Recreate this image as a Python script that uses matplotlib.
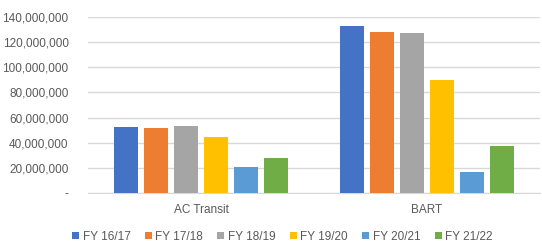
import matplotlib
matplotlib.use("Agg")
import matplotlib.pyplot as plt
import numpy as np

agencies = ["AC Transit", "BART"]
years = ["FY 16/17", "FY 17/18", "FY 18/19", "FY 19/20", "FY 20/21", "FY 21/22"]
values = {
    "FY 16/17": [52.7e6, 132.6e6],
    "FY 17/18": [52.0e6, 128.3e6],
    "FY 18/19": [53.3e6, 127.5e6],
    "FY 19/20": [44.5e6, 90.1e6],
    "FY 20/21": [20.7e6, 16.9e6],
    "FY 21/22": [28.1e6, 37.4e6],
}
colors = ["#4472C4", "#ED7D31", "#A5A5A5", "#FFC000", "#5B9BD5", "#70AD47"]
yticks = [0, 20e6, 40e6, 60e6, 80e6, 100e6, 120e6, 140e6]

plt.rcParams["font.family"] = ["Liberation Sans", "DejaVu Sans"]
txt = "#595959"

fig = plt.figure(figsize=(5.42, 2.48), dpi=100)
ax = fig.add_axes([88 / 542, 1 - 193 / 248, 452 / 542, 176 / 248])

x = np.arange(len(agencies))
slot = 30 / 226
for i, (yr, c) in enumerate(zip(years, colors)):
    ax.bar(x + (i - 2.5) * slot, values[yr], width=slot * 0.82, color=c, label=yr, zorder=3)

ax.set_xlim(-0.5, 1.5)
ax.set_ylim(0, 140e6)
ax.set_yticks(yticks)
ax.set_yticklabels(["-" if v == 0 else f"{int(v):,}" for v in yticks], fontsize=8.5, color=txt)
ax.set_xticks(x)
ax.set_xticklabels(agencies, fontsize=8.5, color=txt)
ax.tick_params(axis="x", length=0, pad=8)
ax.tick_params(axis="y", length=0, pad=14)
ax.grid(axis="y", color="#d9d9d9", linewidth=1, zorder=0)
for s in ["top", "right", "left"]:
    ax.spines[s].set_visible(False)
ax.spines["bottom"].set_color("#d9d9d9")

ax.legend(loc="upper center", bbox_to_anchor=(0.43, -0.175), ncol=6, frameon=False,
          fontsize=8.5, handlelength=0.6, handleheight=0.6, handletextpad=0.3,
          columnspacing=1.2, labelcolor=txt, borderaxespad=0.2)

fig.savefig("out.png", dpi=100)
